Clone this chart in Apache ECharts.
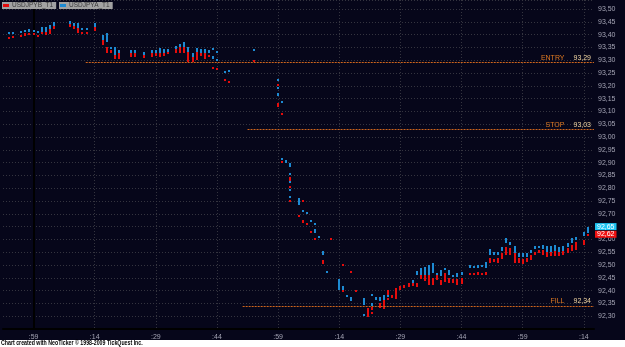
<!DOCTYPE html>
<html>
<head>
<meta charset="utf-8">
<script src="https://cdn.jsdelivr.net/npm/echarts@6/dist/echarts.min.js"></script>
<style>
  html, body { margin: 0; padding: 0; background: #ffffff; }
  #chart { width: 625px; height: 347px; }
</style>
</head>
<body>
<div id="chart"></div>
<script>
// time = minutes after the first :59 mark, one column per minute
const askTime = [-6, -5, -3, -2, -1, 0, 1, 2, 3, 4, 5, 9, 10, 11, 12, 13, 15, 17, 18, 19, 20, 21, 24, 25, 27, 29, 30, 31, 32, 33,
  35, 36, 37, 38, 39, 40, 41, 42, 43, 44, 44, 45, 45, 47, 48, 54,
  60, 60, 60, 61, 61, 62, 63, 63, 63, 63, 63, 65, 66, 67, 68, 69, 69, 70, 71, 72, 75, 76, 77, 78, 81, 81, 83, 83, 84, 85, 86, 87,
  93, 94, 95, 96, 97, 98, 99, 100, 101, 102, 103, 104, 105, 107, 108, 109, 110, 111, 112, 113, 114, 115, 116, 117, 118, 119, 120,
  121, 122, 123, 124, 125, 126, 127, 128, 129, 130, 131, 132, 133, 135, 136]
const askLow = [93.401, 93.405, 93.409, 93.409, 93.409, 93.409, 93.405, 93.409, 93.409, 93.413, 93.429, 93.440, 93.433, 93.417, 93.417, 93.421, 93.425, 93.378, 93.370, 93.343, 93.308, 93.327, 93.327, 93.327, 93.319, 93.327, 93.327, 93.327, 93.327, 93.331,
  93.343, 93.343, 93.343, 93.319, 93.312, 93.312, 93.327, 93.327, 93.327, 93.339, 93.304, 93.335, 93.296, 93.249, 93.261, 93.343,
  93.226, 93.195, 93.160, 93.132, 92.910, 92.898, 92.883, 92.852, 92.820, 92.793, 92.770, 92.734, 92.707, 92.707, 92.668, 92.664, 92.625, 92.614, 92.540, 92.477, 92.403, 92.399, 92.384, 92.360, 92.344, 92.302, 92.380, 92.341, 92.364, 92.360, 92.348, 92.384,
  92.430, 92.462, 92.462, 92.462, 92.462, 92.469, 92.462, 92.458, 92.481, 92.462, 92.454, 92.454, 92.462, 92.489, 92.497, 92.489, 92.493, 92.489, 92.540, 92.540, 92.540, 92.555, 92.586, 92.579, 92.532, 92.532, 92.532,
  92.532, 92.547, 92.563, 92.567, 92.563, 92.551, 92.551, 92.551, 92.551, 92.555, 92.571, 92.586, 92.598, 92.614, 92.625]
const askHigh = [93.409, 93.409, 93.413, 93.417, 93.421, 93.417, 93.413, 93.429, 93.429, 93.437, 93.448, 93.452, 93.444, 93.444, 93.425, 93.425, 93.444, 93.397, 93.405, 93.351, 93.351, 93.339, 93.339, 93.339, 93.331, 93.339, 93.339, 93.347, 93.343, 93.343,
  93.355, 93.362, 93.370, 93.351, 93.327, 93.347, 93.343, 93.343, 93.339, 93.347, 93.316, 93.335, 93.304, 93.257, 93.261, 93.343,
  93.226, 93.195, 93.171, 93.140, 92.918, 92.910, 92.898, 92.859, 92.832, 92.797, 92.770, 92.762, 92.715, 92.707, 92.676, 92.664, 92.641, 92.614, 92.555, 92.477, 92.446, 92.419, 92.384, 92.376, 92.372, 92.309, 92.387, 92.352, 92.376, 92.376, 92.384, 92.384,
  92.442, 92.477, 92.489, 92.493, 92.501, 92.508, 92.469, 92.481, 92.489, 92.481, 92.462, 92.469, 92.473, 92.501, 92.497, 92.501, 92.501, 92.512, 92.563, 92.551, 92.551, 92.571, 92.606, 92.590, 92.575, 92.547, 92.547,
  92.547, 92.559, 92.575, 92.575, 92.579, 92.575, 92.575, 92.579, 92.571, 92.575, 92.586, 92.606, 92.610, 92.629, 92.650]

const bidTime = [-6, -5, -3, -2, -1, 0, 1, 2, 3, 4, 5, 9, 10, 11, 12, 13, 15, 17, 18, 19, 20, 21, 24, 25, 27, 29, 30, 31, 32, 33,
  35, 36, 37, 38, 39, 40, 41, 42, 43, 44, 45, 47, 48, 54,
  60, 60, 61, 61, 63, 63, 63, 65, 66, 66, 67, 68, 69, 71, 73, 76, 76, 78, 79, 82, 83, 83, 85, 86, 87, 87, 88, 89, 90, 91, 92,
  93, 94, 95, 96, 97, 98, 99, 100, 101, 102, 103, 104, 105, 107, 108, 109, 110, 111, 112, 113, 114, 115, 116, 117, 118, 119, 120,
  121, 122, 123, 124, 125, 126, 127, 128, 129, 130, 131, 132, 133, 135, 136]
const bidLow = [93.390, 93.390, 93.394, 93.394, 93.397, 93.397, 93.390, 93.401, 93.397, 93.401, 93.421, 93.429, 93.421, 93.405, 93.405, 93.409, 93.413, 93.358, 93.327, 93.327, 93.304, 93.304, 93.312, 93.312, 93.308, 93.312, 93.316, 93.312, 93.316, 93.323,
  93.327, 93.327, 93.327, 93.292, 93.292, 93.300, 93.316, 93.304, 93.312, 93.265, 93.261, 93.218, 93.218, 93.300,
  93.199, 93.117, 93.093, 92.906, 92.828, 92.809, 92.754, 92.696, 92.754, 92.664, 92.664, 92.625, 92.606, 92.504, 92.606, 92.403, 92.504, 92.477, 92.403, 92.298, 92.325, 92.317, 92.333, 92.329, 92.384, 92.372, 92.372, 92.368, 92.403, 92.411, 92.415,
  92.419, 92.415, 92.446, 92.438, 92.423, 92.423, 92.442, 92.423, 92.434, 92.430, 92.430, 92.423, 92.426, 92.462, 92.462, 92.462, 92.462, 92.462, 92.508, 92.512, 92.508, 92.524, 92.540, 92.540, 92.508, 92.508, 92.504,
  92.512, 92.520, 92.540, 92.547, 92.540, 92.532, 92.536, 92.536, 92.536, 92.540, 92.547, 92.555, 92.559, 92.579, 92.612]
const bidHigh = [93.390, 93.394, 93.397, 93.405, 93.405, 93.405, 93.397, 93.409, 93.409, 93.421, 93.433, 93.440, 93.433, 93.425, 93.409, 93.409, 93.429, 93.378, 93.351, 93.339, 93.319, 93.327, 93.327, 93.327, 93.319, 93.327, 93.327, 93.327, 93.327, 93.331,
  93.343, 93.351, 93.351, 93.331, 93.312, 93.331, 93.327, 93.327, 93.319, 93.273, 93.269, 93.226, 93.218, 93.300,
  93.206, 93.132, 93.093, 92.906, 92.844, 92.809, 92.754, 92.696, 92.754, 92.676, 92.664, 92.633, 92.606, 92.520, 92.606, 92.403, 92.504, 92.477, 92.403, 92.333, 92.337, 92.317, 92.352, 92.364, 92.403, 92.372, 92.384, 92.411, 92.419, 92.423, 92.430,
  92.430, 92.430, 92.462, 92.462, 92.462, 92.450, 92.462, 92.442, 92.469, 92.450, 92.446, 92.446, 92.450, 92.469, 92.469, 92.473, 92.469, 92.473, 92.528, 92.524, 92.528, 92.547, 92.571, 92.567, 92.547, 92.528, 92.524,
  92.528, 92.540, 92.551, 92.559, 92.559, 92.551, 92.551, 92.555, 92.551, 92.555, 92.567, 92.579, 92.590, 92.598, 92.620]

const levelNames = ['ENTRY', 'STOP', 'FILL']
const levelPrices = [93.29, 93.03, 92.34]
const levelStart = [12.8, 52.5, 51.3]

const lastAsk = 92.65
const lastBid = 92.62

const seriesNames = ['USDJPYB_T1', 'USDJPYA_T1']

const fmtPrice = (v) => v.toFixed(2).replace('.', ',')

const zip = (t, lo, hi) => t.map((x, i) => [x, lo[i], hi[i]])

const renderTick = (params, api) => {
  const top = api.coord([api.value(0), api.value(2)])
  const bottom = api.coord([api.value(0), api.value(1)])
  const h = Math.max(bottom[1] - top[1], 2)
  return {
    type: 'rect',
    shape: { x: Math.round(top[0]) - 1, y: Math.round(top[1]), width: 2, height: Math.round(h) },
    style: { fill: api.visual('color') }
  }
}

const legendBox = (name, left) => ({
  data: [name],
  left: left,
  top: 2,
  padding: [0, 3, 0, 1],
  backgroundColor: '#a2a2a2',
  itemWidth: 6,
  itemHeight: 3,
  itemGap: 0,
  icon: 'rect',
  selectedMode: false,
  textStyle: { fontSize: 6.5, lineHeight: 7, color: '#3c3c3c', fontFamily: 'Liberation Sans', padding: [0, 0, 0, -2] }
})

const chart = echarts.init(document.getElementById('chart'))

chart.setOption({
  backgroundColor: '#06061a',
  animation: false,
  legend: [legendBox(seriesNames[0], 2), legendBox(seriesNames[1], 59)],
  grid: { left: 0, right: 31, top: 0, bottom: 18 },
  xAxis: {
    type: 'value',
    min: -7.5,
    max: 137.5,
    interval: 7.5,
    axisLine: { show: true, lineStyle: { color: '#000000', width: 2 } },
    axisTick: { show: false },
    axisLabel: {
      color: '#a4a4b4',
      fontSize: 7,
      fontFamily: 'Liberation Sans',
      margin: 5,
      formatter: (v) => {
        if (v % 15 !== 0) return ''
        const m = (59 + v) % 60
        return ':' + (m < 10 ? '0' + m : m)
      }
    },
    splitLine: {
      show: true,
      lineStyle: { color: ['rgba(0,0,0,0)', '#34343f'], type: [1, 2], width: 1 }
    }
  },
  yAxis: {
    type: 'value',
    position: 'right',
    min: 92.25,
    max: 93.535,
    interval: 0.05,
    axisLine: { show: true, lineStyle: { color: '#000000', width: 2 } },
    axisTick: { show: false },
    axisLabel: {
      color: '#a4a4b4',
      fontSize: 7,
      fontFamily: 'Liberation Sans',
      margin: 4,
      showMinLabel: false,
      showMaxLabel: false,
      formatter: fmtPrice
    },
    splitLine: { show: true, lineStyle: { color: '#34343f', type: [1, 2], width: 1 } }
  },
  series: [
    {
      name: seriesNames[1],
      type: 'custom',
      renderItem: renderTick,
      itemStyle: { color: '#1d8ad2' },
      encode: { x: 0, y: [1, 2] },
      data: zip(askTime, askLow, askHigh)
    },
    {
      name: seriesNames[0],
      type: 'custom',
      renderItem: renderTick,
      itemStyle: { color: '#e40c0c' },
      encode: { x: 0, y: [1, 2] },
      data: zip(bidTime, bidLow, bidHigh)
    },
    {
      name: 'levels',
      type: 'line',
      data: [],
      markLine: {
        silent: true,
        symbol: 'none',
        lineStyle: { color: '#d0661c', type: [2, 1], width: 1 },
        label: {
          position: 'insideEndTop',
          distance: [3, 1],
          fontFamily: 'Liberation Sans',
          fontSize: 7,
          rich: {
            n: { color: '#e07a22', fontSize: 7 },
            v: { color: '#f2d6a2', fontSize: 7, padding: [0, 0, 0, 9] }
          }
        },
        data: levelNames.map((n, i) => [
          { coord: [levelStart[i], levelPrices[i]], label: { formatter: '{n|' + n + '}{v|' + fmtPrice(levelPrices[i]) + '}' } },
          { coord: [137.5, levelPrices[i]] }
        ])
      }
    },
    {
      name: 'last',
      type: 'line',
      data: [],
      z: 10,
      markLine: {
        silent: true,
        symbol: 'none',
        lineStyle: { color: 'rgba(0,0,0,0)', width: 0 },
        label: {
          show: true,
          position: 'end',
          distance: 1,
          color: '#ffffff',
          fontSize: 7,
          fontFamily: 'Liberation Sans',
          padding: [0, 2],
          lineHeight: 7
        },
        data: [
          { yAxis: lastAsk, label: { formatter: fmtPrice(lastAsk), backgroundColor: '#1fc4f2' } },
          { yAxis: lastBid, label: { formatter: fmtPrice(lastBid), backgroundColor: '#f01010' } }
        ]
      }
    }
  ],
  graphic: [
    { type: 'rect', left: 0, top: 340, shape: { width: 625, height: 7 }, style: { fill: '#ffffff' } },
    {
      type: 'text',
      x: 1,
      y: 340,
      scaleX: 0.75,
      style: {
        text: 'Chart created with NeoTicker \u00a9 1998-2009 TickQuest Inc.',
        font: 'bold 7px "Liberation Sans"',
        fill: '#000000'
      }
    }
  ]
})
</script>
</body>
</html>
